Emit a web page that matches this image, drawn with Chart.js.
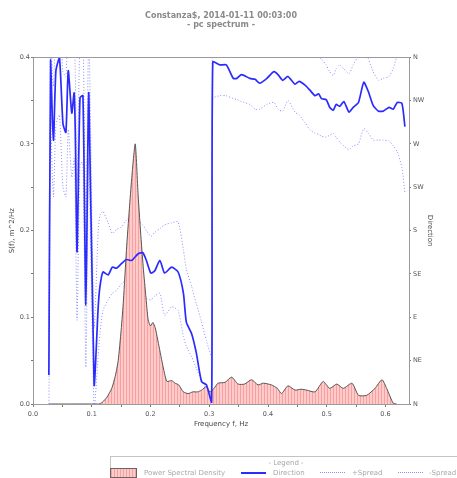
<!DOCTYPE html>
<html>
<head>
<meta charset="utf-8">
<script src="https://cdn.jsdelivr.net/npm/chart.js@4.4.1/dist/chart.umd.min.js"></script>
<style>
  html, body { margin: 0; padding: 0; background: #fff; overflow: hidden; }
  #wrap { position: relative; width: 457px; height: 478px; overflow: hidden; }
  #legend { position: absolute; left: 110px; top: 456px; width: 360px; height: 24px;
    border: 1px solid #c4c4c4; font: 7px "DejaVu Sans", sans-serif; color: #a8a8a8; }
  #legend span { position: absolute; white-space: nowrap; }
  .sw { position: absolute; }
</style>
</head>
<body>
<div id="wrap">
  <canvas id="grafico" width="457" height="478"></canvas>
  <div id="legend">
    <span style="left:0; width:350px; text-align:center; top:2px;">- Legend -</span>
    <div class="sw" style="left:-1px; top:11px; width:25px; height:8px; border:1px solid #666;
      background: repeating-linear-gradient(90deg, #f7a0a0 0 1px, #ffcaca 1px 3px);"></div>
    <span style="left:33px; top:12px;">Power Spectral Density</span>
    <div class="sw" style="left:130px; top:15px; width:25px; height:2px; background:#2b2bff;"></div>
    <span style="left:162px; top:12px;">Direction</span>
    <div class="sw" style="left:209px; top:15px; width:25px; border-top:1px dotted #8c8cff;"></div>
    <span style="left:241px; top:12px;">+Spread</span>
    <div class="sw" style="left:287px; top:15px; width:25px; border-top:1px dotted #8c8cff;"></div>
    <span style="left:318px; top:12px;">-Spread</span>
  </div>
</div>
<script>
// power spectral density, m^2/Hz
const psdFreq = [0.027, 0.060, 0.100, 0.112, 0.118, 0.126, 0.134, 0.140, 0.145, 0.150, 0.154, 0.159,
  0.164, 0.168, 0.174, 0.179, 0.184, 0.188, 0.192, 0.196, 0.200, 0.204, 0.208, 0.212, 0.219, 0.224,
  0.228, 0.236, 0.242, 0.248, 0.256, 0.264, 0.272, 0.280, 0.287, 0.295, 0.301, 0.308, 0.315, 0.327,
  0.338, 0.349, 0.360, 0.372, 0.383, 0.392, 0.406, 0.416, 0.423, 0.434, 0.446, 0.456, 0.466, 0.480,
  0.494, 0.505, 0.517, 0.528, 0.543, 0.554, 0.568, 0.582, 0.594, 0.602, 0.613, 0.619];
const psdValues = [0, 0, 0, 0, 0.002, 0.008, 0.018, 0.032, 0.05, 0.085, 0.12, 0.177,
  0.225, 0.26, 0.30, 0.24, 0.19, 0.155, 0.125, 0.097, 0.09, 0.094, 0.088, 0.075, 0.051, 0.035,
  0.026, 0.027, 0.024, 0.022, 0.014, 0.012, 0.014, 0.014, 0.016, 0.02, 0.014, 0.018, 0.024, 0.025,
  0.031, 0.023, 0.023, 0.028, 0.022, 0.024, 0.022, 0.018, 0.012, 0.021, 0.016, 0.017, 0.016, 0.014,
  0.026, 0.018, 0.023, 0.018, 0.024, 0.01, 0.01, 0.018, 0.028, 0.018, 0.001, 0];

// direction and spread, degrees
const dirFreq = [0.027, 0.030, 0.033, 0.035, 0.039, 0.045, 0.051, 0.056, 0.060, 0.066, 0.070, 0.072,
  0.075, 0.080, 0.085, 0.090, 0.095, 0.104, 0.111, 0.114, 0.119, 0.128, 0.135, 0.142, 0.151, 0.159,
  0.168, 0.179, 0.187, 0.193, 0.2005, 0.207, 0.216, 0.224, 0.236, 0.247, 0.256, 0.261, 0.270, 0.278,
  0.287, 0.295, 0.304, 0.306, 0.318, 0.329, 0.341, 0.347, 0.355, 0.369, 0.378, 0.386, 0.398, 0.410,
  0.417, 0.425, 0.434, 0.446, 0.453, 0.463, 0.471, 0.480, 0.486, 0.491, 0.499, 0.505, 0.511, 0.516,
  0.522, 0.529, 0.538, 0.545, 0.554, 0.563, 0.571, 0.579, 0.588, 0.596, 0.606, 0.613, 0.620, 0.628, 0.633];
const direction = [30, 357, 295, 274, 346, 360, 291, 282, 346, 302, 323, 281,
  158, 318, 320, 103, 323, 20, 101, 122, 137, 134, 142, 141, 146, 150,
  149, 156, 157, 149, 136, 138, 149, 136, 142, 137, 115, 85, 73, 53,
  23, 20, 2, 355, 352, 352, 338, 338, 342, 338, 337, 333, 338, 345,
  342, 336, 340, 332, 335, 331, 326, 320, 322, 317, 316, 308, 305, 311,
  309, 314, 303, 308, 313, 334, 324, 310, 304, 304, 308, 306, 313, 312, 288];
const spreadPlus = [75, 400, 340, 330, 395, 405, 345, 340, 400, 360, 380, 340,
  230, 380, 385, 170, 385, 80, 180, 196, 200, 188, 177, 181, 184, 191,
  195, 190, 186, 180, 174, 178, 182, 186, 188, 189, 160, 140, 122, 104,
  85, 66, 50, 395, 392, 395, 380, 378, 382, 380, 378, 375, 380, 385,
  383, 378, 380, 375, 372, 370, 365, 362, 360, 358, 352, 345, 341, 348,
  352, 348, 343, 352, 362, 372, 358, 345, 336, 338, 340, 348, 362, 370, 365];
const spreadMinus = [-15, 300, 235, 215, 290, 300, 225, 215, 285, 235, 255, 210,
  87, 250, 250, 38, 255, -5, 50, 73, 97, 108, 115, 118, 125, 128,
  128, 125, 118, 110, 108, 112, 115, 92, 101, 97, 70, 60, 49, 37,
  25, 15, 2, 317, 320, 320, 317, 316, 314, 311, 306, 306, 311, 313,
  306, 304, 315, 303, 300, 292, 285, 281, 280, 278, 277, 279, 281, 277,
  272, 268, 264, 268, 270, 286, 281, 274, 274, 274, 273, 268, 262, 245, 219];

const compass = ["N", "NE", "E", "SE", "S", "SW", "W", "NW", "N"];

const pts = (xs, ys) => xs.map((x, i) => ({ x: x, y: ys[i] }));

// hatched pink fill for the spectrum
const pc = document.createElement("canvas");
pc.width = 3; pc.height = 1;
const pctx = pc.getContext("2d");
pctx.fillStyle = "#ffcaca"; pctx.fillRect(0, 0, 3, 1);
pctx.fillStyle = "#f7a0a0"; pctx.fillRect(0, 0, 1, 1);
const ctx = document.getElementById("grafico").getContext("2d");
const hatch = ctx.createPattern(pc, "repeat");

const frame = {
  id: "frame",
  afterDraw(chart) {
    const a = chart.chartArea, c = chart.ctx;
    c.save();
    c.strokeStyle = "#9a9a9a";
    c.lineWidth = 1;
    c.strokeRect(Math.round(a.left) + 0.5, Math.round(a.top) + 0.5,
      Math.round(a.right - a.left), Math.round(a.bottom - a.top));
    c.restore();
  }
};

const tickFont = { family: "DejaVu Sans", size: 6.5 };
const titleFont = { family: "DejaVu Sans", size: 7 };

new Chart(ctx, {
  type: "scatter",
  data: {
    datasets: [
      {
        label: "Direction", data: pts(dirFreq, direction), yAxisID: "y1",
        showLine: true, borderColor: "#2b2bff", borderWidth: 1.7, pointRadius: 0,
        tension: 0.2, order: 0
      },
      {
        label: "Power Spectral Density", data: pts(psdFreq, psdValues), yAxisID: "y",
        showLine: true, borderColor: "#555", borderWidth: 1, backgroundColor: hatch,
        fill: "origin", pointRadius: 0, tension: 0.2, order: 1
      },
      {
        label: "+Spread", data: pts(dirFreq, spreadPlus), yAxisID: "y1",
        showLine: true, borderColor: "#8c8cff", borderWidth: 1, borderDash: [1, 2],
        pointRadius: 0, tension: 0.2, order: 2
      },
      {
        label: "-Spread", data: pts(dirFreq, spreadMinus), yAxisID: "y1",
        showLine: true, borderColor: "#8c8cff", borderWidth: 1, borderDash: [1, 2],
        pointRadius: 0, tension: 0.2, order: 2
      }
    ]
  },
  options: {
    responsive: false,
    maintainAspectRatio: false,
    animation: false,
    devicePixelRatio: 1,
    layout: { padding: { left: 0, right: 23, top: 0, bottom: 46 } },
    plugins: {
      legend: { display: false },
      tooltip: { enabled: false },
      title: {
        display: true,
        fullSize: false,
        text: ["Constanza$, 2014-01-11 00:03:00", "- pc spectrum -"],
        color: "#8a8a8a",
        font: { family: "DejaVu Sans", size: 8, weight: "bold", lineHeight: 1.2 },
        padding: { top: 11, bottom: 27 }
      }
    },
    scales: {
      x: {
        type: "linear", min: 0, max: 0.64,
        grid: { display: true, drawOnChartArea: false, tickLength: 3, color: "#777" },
        border: { display: false },
        ticks: {
          stepSize: 0.05, includeBounds: false, autoSkip: false, maxRotation: 0,
          padding: 3, color: "#555", font: tickFont,
          callback: v => Math.abs(v * 10 - Math.round(v * 10)) < 1e-6 ? v.toFixed(1) : ""
        },
        title: { display: true, text: "Frequency f, Hz", color: "#444", font: titleFont, padding: { top: 0, bottom: 4 } },
        afterFit: s => { s.height = 28; }
      },
      y: {
        position: "left", min: 0, max: 0.4,
        grid: { display: true, drawOnChartArea: false, tickLength: 2, color: "#777" },
        border: { display: false },
        ticks: {
          stepSize: 0.05, includeBounds: false, padding: 1, color: "#555", font: tickFont,
          callback: v => Math.abs(v * 10 - Math.round(v * 10)) < 1e-6 ? v.toFixed(1) : ""
        },
        title: { display: true, text: "S(f), m^2/Hz", color: "#444", font: titleFont, padding: { top: 8, bottom: 0 } },
        afterFit: s => { s.width = 33; }
      },
      y1: {
        position: "right", min: 0, max: 360,
        grid: { display: true, drawOnChartArea: false, tickLength: 2, color: "#777" },
        border: { display: false },
        ticks: {
          stepSize: 45, padding: 2, color: "#555", font: tickFont,
          callback: v => compass[Math.round(v / 45)]
        },
        title: { display: true, text: "Direction", color: "#444", font: titleFont, padding: { top: 0, bottom: 0 } },
        afterFit: s => { s.width = 25; }
      }
    }
  },
  plugins: [frame]
});
</script>
</body>
</html>
